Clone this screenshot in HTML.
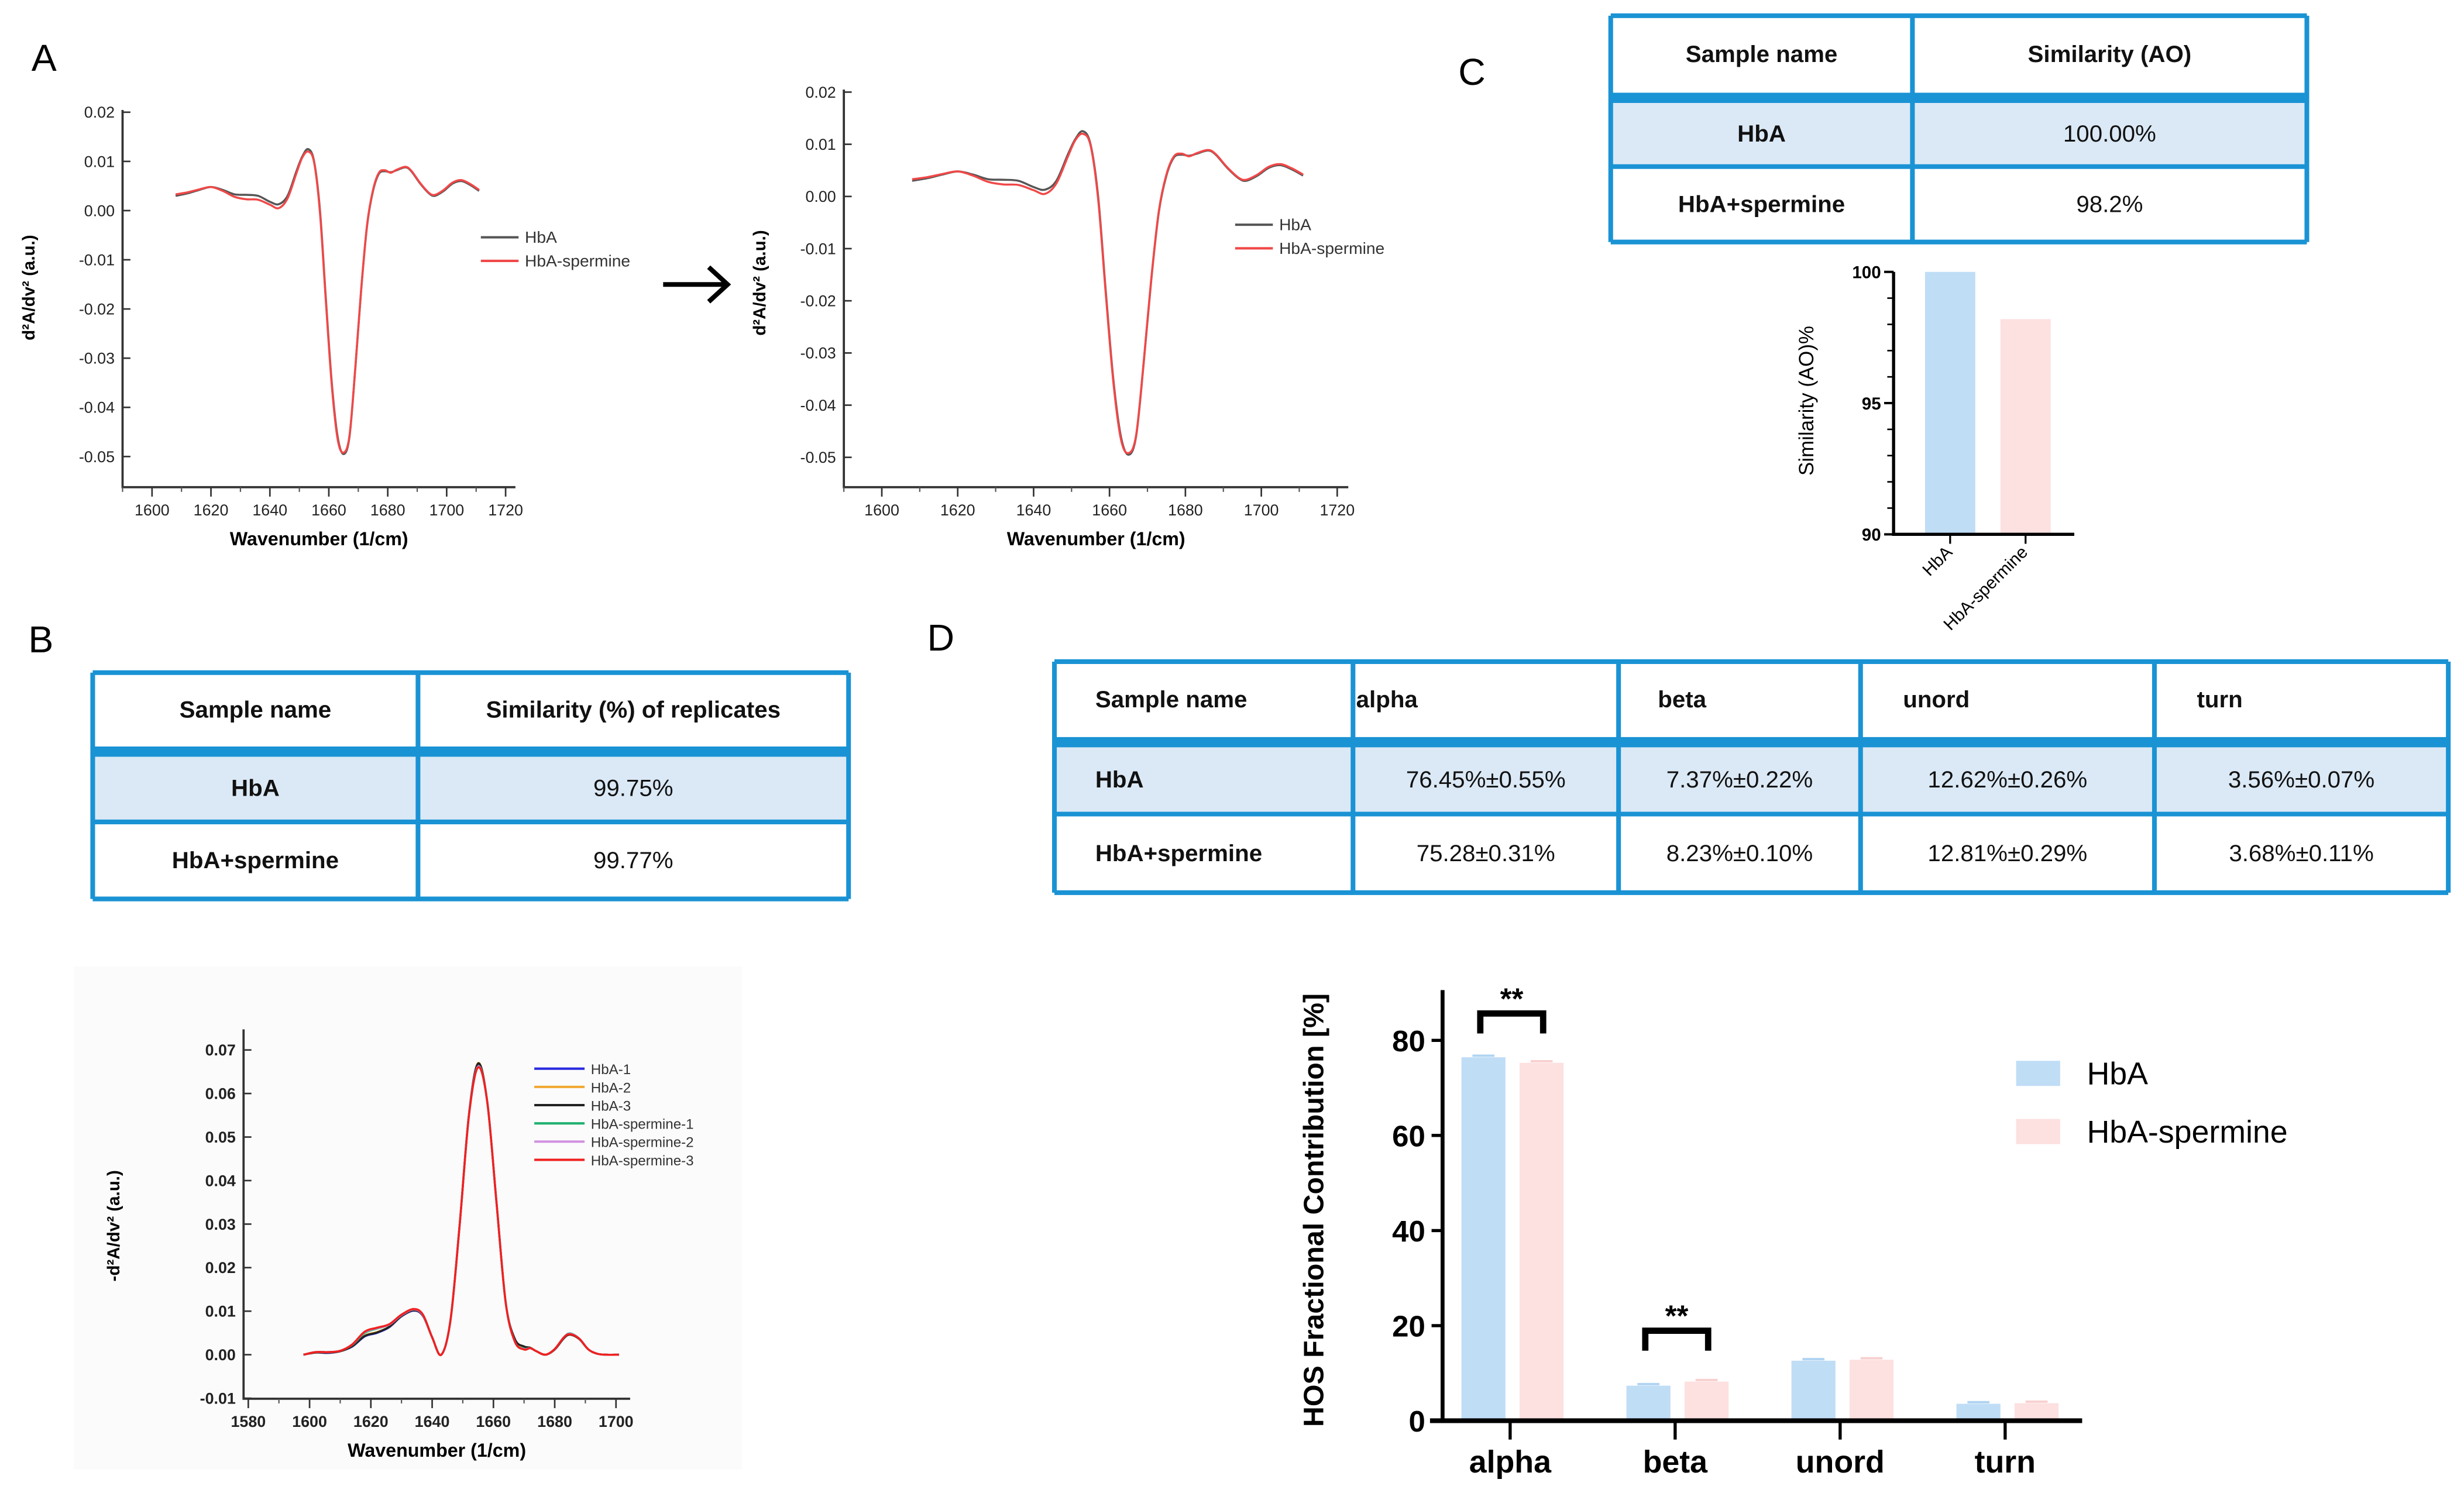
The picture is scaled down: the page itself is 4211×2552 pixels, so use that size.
<!DOCTYPE html>
<html><head><meta charset="utf-8">
<style>
html,body{margin:0;padding:0;background:#fff;}
svg{display:block;}
text{font-family:"Liberation Sans",sans-serif;}
</style></head>
<body>
<svg id="fig" width="4211" height="2552" viewBox="0 0 1568 950" preserveAspectRatio="none" xmlns="http://www.w3.org/2000/svg">
<rect x="0" y="0" width="1568" height="950" fill="#fff"/>
<rect x="47" y="615" width="425" height="320" fill="#fbfbfb"/>
<g id="root"></g>
</svg>
<script>
// ---------- DATA ----------
const specWn = [1608,1612,1616,1620,1624,1628,1632,1636,1640,1643,1646,1649,1651,1653,1655,1657,1659,1661,1663,1665,1667,1669,1671,1673,1675,1677,1679,1681,1683,1686,1688,1691,1694,1696,1699,1702,1705,1708,1711];
const specHbA = [0.003,0.0035,0.0042,0.0048,0.0042,0.0033,0.0032,0.0030,0.0018,0.0013,0.003,0.008,0.011,0.0125,0.010,0.000,-0.018,-0.035,-0.046,-0.0495,-0.046,-0.032,-0.016,-0.003,0.004,0.0075,0.008,0.0078,0.0082,0.0088,0.008,0.0055,0.0035,0.003,0.004,0.0055,0.006,0.0052,0.004];
const specSperm = [0.0033,0.0037,0.0043,0.0048,0.0040,0.0028,0.0023,0.0022,0.0012,0.0005,0.0025,0.0076,0.0108,0.012,0.0098,-0.0005,-0.0185,-0.0355,-0.0465,-0.0492,-0.0458,-0.0318,-0.0158,-0.0028,0.0042,0.0077,0.0082,0.0077,0.0083,0.0089,0.0081,0.0056,0.0036,0.0032,0.0042,0.0057,0.0062,0.0054,0.0042];
const repWn = [1598,1602,1606,1610,1614,1618,1622,1626,1630,1634,1637,1640,1643,1646,1649,1652,1655,1658,1661,1664,1667,1670,1672,1674,1677,1680,1683,1685,1688,1691,1694,1697,1701];
const repHbA1 = [0,0.0005,0.0004,0.0008,0.0019,0.0042,0.005,0.0063,0.0088,0.0101,0.0089,0.004,0,0.008,0.030,0.055,0.0668,0.058,0.035,0.012,0.0035,0.0018,0.0016,0.0008,0,0.0012,0.0038,0.0047,0.0036,0.0012,0.0002,0,0];
const repHbA2 = [0,0.0005,0.0005,0.0008,0.002,0.0044,0.0052,0.0064,0.0089,0.0102,0.009,0.004,0,0.008,0.030,0.055,0.067,0.058,0.035,0.012,0.0034,0.0018,0.0016,0.0008,0,0.0012,0.0038,0.0046,0.0036,0.0012,0.0002,0,0];
const repHbA3 = [0,0.0005,0.0005,0.0008,0.002,0.0043,0.0051,0.0064,0.0089,0.0102,0.009,0.004,0,0.008,0.030,0.0552,0.0669,0.058,0.035,0.012,0.0036,0.0019,0.0016,0.0008,0,0.0012,0.0038,0.0046,0.0036,0.0012,0.0002,0,0];
const repSp1 = [0,0.0006,0.0006,0.0009,0.0023,0.0050,0.0060,0.0069,0.0091,0.0104,0.0091,0.004,0,0.008,0.030,0.055,0.0662,0.058,0.035,0.012,0.003,0.0014,0.0015,0.0008,0,0.0013,0.004,0.0049,0.0037,0.0012,0.0002,0,0];
const repSp2 = [0,0.0006,0.0006,0.0009,0.0024,0.0052,0.0061,0.0069,0.0091,0.0104,0.0091,0.004,0,0.008,0.030,0.055,0.0662,0.058,0.035,0.012,0.003,0.0013,0.0015,0.0008,0,0.0013,0.004,0.0048,0.0037,0.0012,0.0002,0,0];
const repSp3 = [0,0.0006,0.0006,0.0009,0.0024,0.0053,0.0062,0.0070,0.0092,0.0105,0.0092,0.004,0,0.008,0.030,0.0548,0.066,0.058,0.035,0.012,0.003,0.0012,0.0015,0.0008,0,0.0013,0.004,0.0047,0.0037,0.0012,0.0002,0,0];
const aoCats = ["HbA","HbA-spermine"];
const aoVals = [100.0,98.2];
const aoTicks = [90,95,100];
const hosCats = ["alpha","beta","unord","turn"];
const hosHbA = [76.45,7.37,12.62,3.56];
const hosSperm = [75.28,8.23,12.81,3.68];
const hosTicks = [0,20,40,60,80];
const specXTicks = [1600,1620,1640,1660,1680,1700,1720];
const specYTicks = [0.02,0.01,0.00,-0.01,-0.02,-0.03,-0.04,-0.05];
const repXTicks = [1580,1600,1620,1640,1660,1680,1700];
const repYTicks = [-0.01,0.00,0.01,0.02,0.03,0.04,0.05,0.06,0.07];

const NS="http://www.w3.org/2000/svg";
const root=document.getElementById('root');
function mk(tag,attrs,parent,txt){const e=document.createElementNS(NS,tag);for(const k in attrs)e.setAttribute(k,attrs[k]);if(txt!==undefined)e.textContent=txt;(parent||root).appendChild(e);return e;}
function smooth(pts){let d="M"+pts[0][0].toFixed(2)+","+pts[0][1].toFixed(2);for(let i=0;i<pts.length-1;i++){const p0=pts[i-1]||pts[i],p1=pts[i],p2=pts[i+1],p3=pts[i+2]||p2;const c1x=p1[0]+(p2[0]-p0[0])/6,c1y=p1[1]+(p2[1]-p0[1])/6,c2x=p2[0]-(p3[0]-p1[0])/6,c2y=p2[1]-(p3[1]-p1[1])/6;d+=" C"+c1x.toFixed(2)+","+c1y.toFixed(2)+" "+c2x.toFixed(2)+","+c2y.toFixed(2)+" "+p2[0].toFixed(2)+","+p2[1].toFixed(2);}return d;}
function label(t,x,y,opts){const e=mk('text',Object.assign({x:x,y:y,'font-size':12,fill:'#000'},opts||{}),root,t);return e;}

for (const [t,x,y] of [["A",20,45],["B",18,415],["C",928,54],["D",590,414]]){
  const e=label(t,x,y,{'font-size':24});
  
  
}

function specChart(cfg){
  const g=mk('g',{},root);
  
  
  const sx=v=>cfg.x0+(v-cfg.xmin)*cfg.xs, sy=v=>cfg.y0-(v-cfg.ymin)*cfg.ys;
  const axis=mk('path',{d:`M${cfg.axL},${cfg.axT} V${cfg.axB} H${cfg.axR}`,stroke:'#333',fill:'none','stroke-width':1.4},g);
  
  
  for(let v=cfg.xmin;v<=cfg.xmax+1e-9;v+=cfg.xminor){mk('line',{x1:sx(v),x2:sx(v),y1:cfg.axB,y2:cfg.axB+3,stroke:'#555','stroke-width':0.8},g);}
  cfg.yt.forEach(v=>{mk('line',{x1:cfg.axL,x2:cfg.axL+5,y1:sy(v),y2:sy(v),stroke:'#333','stroke-width':1},g);
    const t=mk('text',{x:cfg.axL-5,y:sy(v)+3.5,'font-size':cfg.tfs,'text-anchor':'end','font-family':'"Liberation Serif",serif',fill:'#222','font-weight':cfg.tbold||'normal'},g,cfg.yfmt(v));
    });
  cfg.xt.forEach(v=>{mk('line',{x1:sx(v),x2:sx(v),y1:cfg.axB,y2:cfg.axB+6,stroke:'#333','stroke-width':1},g);
    const t=mk('text',{x:sx(v),y:cfg.axB+18,'font-size':cfg.tfs,'text-anchor':'middle','font-family':'"Liberation Serif",serif',fill:'#222','font-weight':cfg.tbold||'normal'},g,String(v));
    });
  const xt=mk('text',{x:(cfg.axL+cfg.axR)/2,y:cfg.axB+37,'font-size':12,'font-weight':'bold','text-anchor':'middle'},g,'Wavenumber (1/cm)');
  
  const yt=mk('text',{x:0,y:0,'font-size':11,'font-weight':'bold','text-anchor':'middle',transform:`translate(${cfg.ylx},${cfg.yly}) rotate(-90)`},g,cfg.ylab);
  
  cfg.series.forEach((s,i)=>{
    const p=mk('path',{d:smooth(cfg.wn.map((w,j)=>[sx(w),sy(s.v[j])])),stroke:s.c,fill:'none','stroke-width':cfg.lw},g);
    
    const ly=cfg.legY+i*cfg.legDy;
    const ll=mk('line',{x1:cfg.legX,x2:cfg.legX+cfg.legW,y1:ly,y2:ly,stroke:s.c,'stroke-width':1.5},g);
    
    const lt=mk('text',{x:cfg.legX+cfg.legW+4,y:ly+3.5,'font-size':cfg.legFs,fill:'#333'},g,s.n);
    
  });
}
const fmt2=v=>{const s=Math.abs(v).toFixed(2);return (v<-1e-9?"-":"")+s;};
specChart({name:'spectrum-chart-before',x0:78,xmin:1590,xs:37.5/20,y0:134,ymin:0,ys:3130,axL:78,axR:328,axT:70,axB:310,xmax:1720,xminor:10,
  yt:specYTicks,xt:specXTicks,yfmt:fmt2,tfs:10,ylx:22,yly:183,ylab:'d²A/dv² (a.u.)',wn:specWn,lw:1.3,
  series:[{n:'HbA',c:'#555',v:specHbA},{n:'HbA-spermine',c:'#f04848',v:specSperm}],legX:306,legY:151,legDy:15,legW:24,legFs:10.5});
specChart({name:'spectrum-chart-after',x0:537,xmin:1590,xs:48.3/20,y0:125,ymin:0,ys:3320,axL:537,axR:858,axT:57,axB:310,xmax:1720,xminor:10,
  yt:specYTicks,xt:specXTicks,yfmt:fmt2,tfs:10,ylx:487,yly:180,ylab:'d²A/dv² (a.u.)',wn:specWn,lw:1.3,
  series:[{n:'HbA',c:'#555',v:specHbA},{n:'HbA-spermine',c:'#f04848',v:specSperm}],legX:786,legY:143,legDy:15,legW:24,legFs:10.5});

const arr=mk('g',{},root);

mk('line',{x1:422,y1:181,x2:462,y2:181,stroke:'#000','stroke-width':3},arr);
mk('path',{d:'M451,170 L463,181 L451,192',stroke:'#000','stroke-width':3,fill:'none'},arr);

specChart({name:'replicate-spectra-chart',x0:158,xmin:1580,xs:39/20,y0:862,ymin:0,ys:2770,axL:155,axR:401,axT:655,axB:890,xmax:1700,xminor:10,
  yt:repYTicks,xt:repXTicks,yfmt:fmt2,tfs:10,tbold:'bold',ylx:76,yly:780,ylab:'-d²A/dv² (a.u.)',wn:repWn,lw:1.3,
  series:[{n:'HbA-1',c:'#2a2ae0',v:repHbA1},{n:'HbA-2',c:'#f0a830',v:repHbA2},{n:'HbA-3',c:'#222',v:repHbA3},{n:'HbA-spermine-1',c:'#20b070',v:repSp1},{n:'HbA-spermine-2',c:'#d090e0',v:repSp2},{n:'HbA-spermine-3',c:'#f02020',v:repSp3}],
  legX:340,legY:680,legDy:11.6,legW:32,legFs:9});

function table(cfg){
  const g=mk('g',{},root);
  
  const B='#1a93d4';
  mk('rect',{x:cfg.cols[0],y:cfg.rows[2],width:cfg.cols[cfg.cols.length-1]-cfg.cols[0],height:cfg.rows[3]-cfg.rows[2],fill:'#dbe9f6'},g);
  cfg.rows.forEach((y,i)=>{if(i===1)return;mk('line',{x1:cfg.cols[0],x2:cfg.cols[cfg.cols.length-1],y1:y,y2:y,stroke:B,'stroke-width':3},g);});
  mk('rect',{x:cfg.cols[0],y:cfg.rows[1],width:cfg.cols[cfg.cols.length-1]-cfg.cols[0],height:cfg.rows[2]-cfg.rows[1],fill:B},g);
  cfg.cols.forEach(x=>mk('line',{x1:x,x2:x,y1:cfg.rows[0],y2:cfg.rows[cfg.rows.length-1],stroke:B,'stroke-width':3},g));
  const rowY=[(cfg.rows[0]+cfg.rows[1])/2,(cfg.rows[2]+cfg.rows[3])/2,(cfg.rows[3]+cfg.rows[4])/2];
  cfg.cells.forEach((row,r)=>row.forEach((t,c)=>{
    let x,anchor;
    if(cfg.align && cfg.align[r] && cfg.align[r][c]!=null){x=cfg.align[r][c];anchor='start';}
    else{x=(cfg.cols[c]+cfg.cols[c+1])/2;anchor='middle';}
    const e=mk('text',{x:x,y:rowY[r]+5,'font-size':15,'text-anchor':anchor,'font-weight':(r===0||c===0)?'bold':'normal',fill:'#111'},g,t);
    
  }));
}
table({name:'table-similarity-ao',cols:[1025,1217,1468],rows:[10,59,64,106,154],cells:[["Sample name","Similarity (AO)"],["HbA","100.00%"],["HbA+spermine","98.2%"]]});
table({name:'table-replicate-similarity',cols:[59,266,540],rows:[428,475,480,523,572],cells:[["Sample name","Similarity (%) of replicates"],["HbA","99.75%"],["HbA+spermine","99.77%"]]});
table({name:'table-secondary-structure',cols:[671,861,1030,1184,1371,1558],rows:[421,469,474,518,568],
  cells:[["Sample name","alpha","beta","unord","turn"],["HbA","76.45%±0.55%","7.37%±0.22%","12.62%±0.26%","3.56%±0.07%"],["HbA+spermine","75.28±0.31%","8.23%±0.10%","12.81%±0.29%","3.68%±0.11%"]],
  align:[[697,863,1055,1211,1398],[697,null,null,null,null],[697,null,null,null,null]]});

(function(){
  const g=mk('g',{},root);
  
  const y0=340, ys=(340-173)/10, ymin=90, sy=v=>y0-(v-ymin)*ys;
  const cx=[1241,1289], colors=['#c0ddf6','#fde0e0'];
  aoVals.forEach((v,i)=>{const r=mk('rect',{x:cx[i]-16,y:sy(v),width:32,height:y0-sy(v),fill:colors[i]},g);
    });
  mk('path',{d:`M1205,${sy(100)} V${y0} H1320`,stroke:'#000',fill:'none','stroke-width':2},g);
  for(let v=90;v<=100;v+=1){mk('line',{x1:1201,x2:1205,y1:sy(v),y2:sy(v),stroke:'#000','stroke-width':1},g);}
  aoTicks.forEach(v=>{mk('line',{x1:1199,x2:1205,y1:sy(v),y2:sy(v),stroke:'#000','stroke-width':1.5},g);
    const t=mk('text',{x:1197,y:sy(v)+4,'font-size':11,'font-weight':'bold','text-anchor':'end'},g,String(v));
    });
  aoCats.forEach((c,i)=>{mk('line',{x1:cx[i],x2:cx[i],y1:y0,y2:y0+6,stroke:'#000','stroke-width':1.2},g);
    const t=mk('text',{x:0,y:0,'font-size':11,'text-anchor':'end',transform:`translate(${cx[i]+2},${y0+12}) rotate(-45)`},g,c);
    });
  const yt=mk('text',{x:0,y:0,'font-size':13,'text-anchor':'middle',transform:'translate(1154,255) rotate(-90)'},g,'Similarity (AO)%');
  
})();

(function(){
  const g=mk('g',{},root);
  
  const y0=904, ys=(904-662)/80, sy=v=>y0-v*ys;
  const cx=i=>961+i*105;
  hosCats.forEach((c,i)=>{
    const b1=mk('rect',{x:cx(i)-31,y:sy(hosHbA[i]),width:28,height:y0-sy(hosHbA[i]),fill:'#c0ddf6'},g);
    
    const b2=mk('rect',{x:cx(i)+6,y:sy(hosSperm[i]),width:28,height:y0-sy(hosSperm[i]),fill:'#fde0e0'},g);
    
    mk('line',{x1:cx(i)-24,x2:cx(i)-10,y1:sy(hosHbA[i])-1,y2:sy(hosHbA[i])-1,stroke:'#b0d4f2','stroke-width':1.5},g);
    mk('line',{x1:cx(i)+13,x2:cx(i)+27,y1:sy(hosSperm[i])-1,y2:sy(hosSperm[i])-1,stroke:'#f8d0d0','stroke-width':1.5},g);
    mk('line',{x1:cx(i),x2:cx(i),y1:y0,y2:y0+12,stroke:'#000','stroke-width':2},g);
    const t=mk('text',{x:cx(i),y:y0+33,'font-size':20,'font-weight':'bold','text-anchor':'middle'},g,c);
    
  });
  mk('path',{d:`M918,630 V${y0}`,stroke:'#000','stroke-width':2.5,fill:'none'},g);
  mk('line',{x1:910,x2:1325,y1:y0,y2:y0,stroke:'#000','stroke-width':3},g);
  hosTicks.forEach(v=>{mk('line',{x1:911,x2:918,y1:sy(v),y2:sy(v),stroke:'#000','stroke-width':2},g);
    const t=mk('text',{x:907,y:sy(v)+7,'font-size':19,'text-anchor':'end','font-weight':'bold'},g,String(v));
    });
  const yt=mk('text',{x:0,y:0,'font-size':18,'font-weight':'bold','text-anchor':'middle',transform:'translate(842,770) rotate(-90)'},g,'HOS Fractional Contribution [%]');
  
  [[0,Math.max(hosHbA[0],hosSperm[0])+5],[1,Math.max(hosHbA[1],hosSperm[1])+6.5]].forEach(([i,lvl])=>{
    const top=sy(lvl+4.2), bot=sy(lvl);
    const br=mk('path',{d:`M${cx(i)-19},${bot} V${top} H${cx(i)+21} V${bot}`,stroke:'#000','stroke-width':4,fill:'none'},g);
    
    const st=mk('text',{x:cx(i)+1,y:top-3,'font-size':19,'font-weight':'bold','text-anchor':'middle'},g,'**');
    
  });
  [["HbA",'#c0ddf6',683],["HbA-spermine",'#fde0e0',720]].forEach(([n,c,y])=>{
    const s=mk('rect',{x:1283,y:y-8,width:28,height:16,fill:c},g);
    
    const t=mk('text',{x:1328,y:y+7,'font-size':20},g,n);
    
  });
})();
</script>
</body></html>
